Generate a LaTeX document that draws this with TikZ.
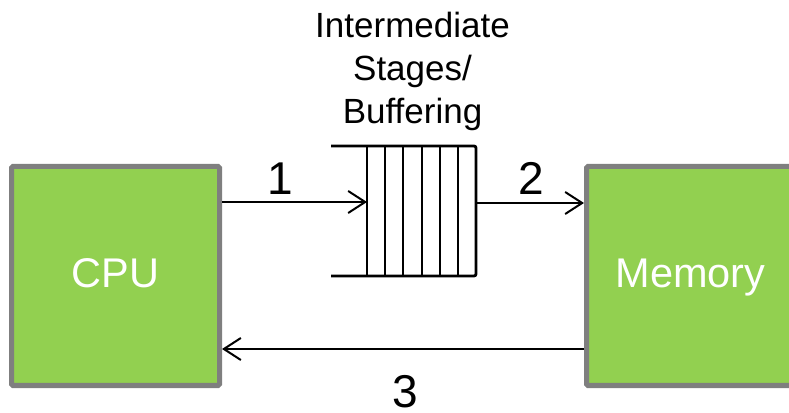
\documentclass[tikz,border=0pt]{standalone}
\usepackage{fontspec}
\setmainfont{Liberation Sans}
\usetikzlibrary{arrows.meta}
\definecolor{boxgreen}{HTML}{92D050}
\definecolor{boxgray}{HTML}{7F7F7F}
\begin{document}
\begin{tikzpicture}[x=1pt,y=1pt,
  unit/.style={draw=boxgray, fill=boxgreen, line width=5pt, rounded corners=1.5pt,
    minimum width=208pt, minimum height=219pt, inner sep=0pt,
    text height=24pt, text depth=0pt,
    text=white, font=\fontsize{41.5}{44}\selectfont},
  arr/.style={line width=2pt, -{Straight Barb[length=17pt,width=22pt,line width=2pt]}},
  numlabel/.style={font=\fontsize{46}{50}\selectfont, inner sep=0pt, anchor=base},
  bufline/.style={line width=2.8pt}]
\useasboundingbox (0,0) rectangle (789,412);
\begin{scope}
\clip (0,0) rectangle (789,412);
\node[unit] (cpu) at (115.5,136) {CPU};
\node[unit] (mem) at (690.5,136) {Memory};
\end{scope}
% buffer
\node[minimum width=109pt, minimum height=130pt, inner sep=0pt, outer sep=0pt] (buf) at (421.5,201) {};
\coordinate (bufstart) at (331,266);
\draw[bufline, rounded corners=2pt] (bufstart) -- (buf.north east) -- (buf.south east) -- (bufstart |- buf.south);
\foreach \x in {0,18,36,55,73,91} {
  \draw[bufline] ([xshift=\x pt]buf.north west) -- ([xshift=\x pt]buf.south west);
}
\node[align=center, font=\fontsize{35}{43}\selectfont, inner sep=0pt, anchor=base] (title) at (412.5,288) {Intermediate\\Stages/\\Buffering};
% arrows
\draw[arr] (cpu.east |- 0,210) -- (buf.west |- 0,210);
\draw[arr] (buf.east |- 0,209) -- (mem.west |- 0,209);
\draw[arr] (mem.west |- 0,63) -- (cpu.east |- 0,63);
\node[numlabel] (n1) at (280,217) {1};
\node[numlabel] (n2) at (531,217) {2};
\node[numlabel] (n3) at (405,4.5) {3};
\end{tikzpicture}
\end{document}
